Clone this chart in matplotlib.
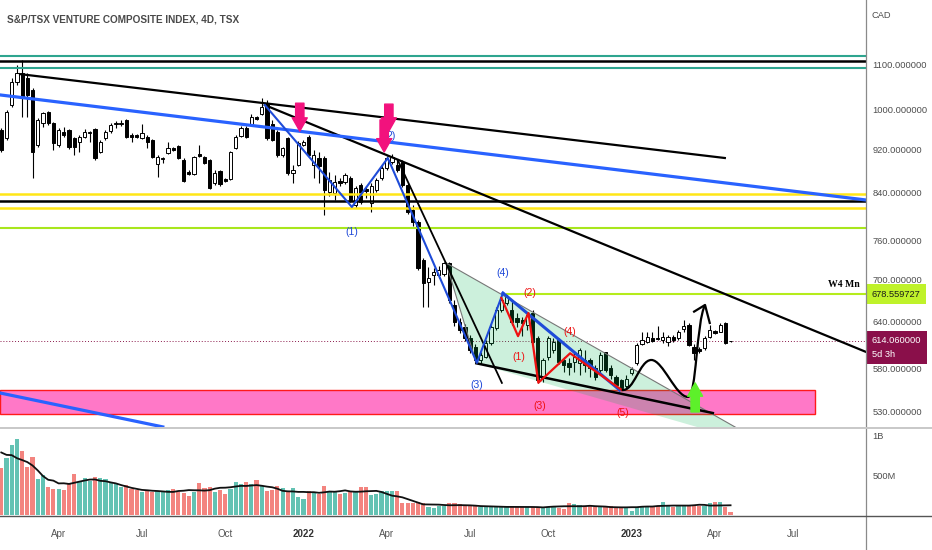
import numpy as np
import pandas as pd
import matplotlib
matplotlib.use("Agg")
import matplotlib.pyplot as plt
from matplotlib.path import Path
from matplotlib.patches import PathPatch, Polygon, Rectangle
from matplotlib.lines import Line2D
from matplotlib.ticker import FixedLocator, NullLocator, FuncFormatter

plt.rcParams['font.family'] = ['Liberation Sans', 'DejaVu Sans']

# ---------------- data: S&P/TSX Venture, 4D bars ----------------
opens = [958, 942, 1010, 1060, 1081, 1069, 1043, 929, 973, 995,
         973, 929, 954, 958, 942, 934, 944, 952, 960, 915,
         942, 956, 971, 971, 979, 948, 948, 942, 944, 938,
         892, 902, 913, 923, 927, 900, 877, 874, 911, 905,
         900, 857, 879, 864, 864, 923, 946, 962, 968, 985,
         991, 1012, 971, 954, 909, 942, 876, 890, 929, 944,
         890, 903, 903, 841, 839, 861, 859, 866, 818, 853,
         846, 822, 845, 866, 885, 896, 890, 896, 853, 810,
         790, 729, 696, 706, 706, 708, 724, 663, 640, 633,
         619, 607, 591, 594, 612, 632, 656, 666, 656, 645,
         642, 636, 652, 619, 569, 594, 603, 616, 591, 587,
         588, 587, 591, 591, 581, 578, 600, 581, 570, 566,
         559, 575, 587, 611, 613, 619, 619, 616, 613, 620,
         619, 630, 636, 607, 604, 606, 620, 628, 627, 638,
         614.5]
closes = [919, 995, 1060, 1081, 1025, 1032, 915, 979, 993, 973,
          933, 958, 948, 925, 925, 944, 954, 954, 903, 934,
          954, 968, 973, 973, 944, 944, 944, 952, 934, 905,
          905, 903, 923, 919, 903, 861, 874, 905, 907, 894,
          848, 876, 855, 861, 915, 944, 962, 944, 985, 981,
          1006, 942, 938, 909, 923, 876, 881, 932, 934, 909,
          909, 888, 845, 863, 859, 857, 872, 827, 848, 824,
          843, 851, 863, 885, 903, 905, 881, 853, 806, 790,
          717, 694, 702, 711, 714, 724, 670, 640, 629, 619,
          603, 591, 597, 612, 633, 656, 670, 674, 640, 640,
          638, 649, 613, 566, 591, 619, 613, 588, 584, 582,
          594, 603, 584, 581, 570, 597, 578, 572, 560, 557,
          568, 580, 610, 616, 620, 615, 617, 620, 620, 616,
          627, 634, 610, 599, 602, 619, 629, 625, 636, 612,
          614.06]
highs = [962, 1000, 1069, 1099, 1111, 1081, 1047, 983, 995, 997,
         975, 962, 964, 960, 944, 948, 960, 956, 962, 938,
         958, 973, 977, 979, 981, 952, 950, 971, 948, 940,
         909, 905, 934, 925, 929, 903, 881, 907, 929, 907,
         902, 881, 881, 866, 917, 948, 966, 966, 991, 987,
         1025, 1021, 979, 958, 925, 944, 890, 936, 938, 948,
         919, 915, 907, 877, 872, 866, 876, 870, 851, 857,
         851, 857, 866, 890, 907, 911, 900, 900, 857, 818,
         793, 732, 718, 717, 720, 726, 726, 670, 645, 637,
         622, 611, 600, 616, 636, 660, 674, 680, 670, 652,
         646, 653, 656, 621, 593, 621, 619, 619, 594, 593,
         600, 606, 603, 593, 584, 600, 601, 584, 572, 568,
         572, 582, 612, 626, 626, 626, 634, 626, 622, 622,
         629, 642, 638, 611, 607, 621, 636, 629, 638, 640,
         615]
lows = [915, 938, 1006, 1054, 985, 985, 866, 925, 964, 968,
        919, 925, 944, 921, 909, 915, 942, 934, 900, 913,
        938, 952, 962, 966, 942, 934, 942, 940, 923, 903,
        868, 894, 911, 917, 902, 859, 872, 872, 905, 892,
        846, 853, 851, 859, 863, 921, 944, 942, 966, 979,
        989, 938, 936, 905, 905, 872, 857, 888, 927, 905,
        866, 857, 801, 834, 827, 851, 855, 824, 813, 820,
        830, 806, 841, 863, 881, 892, 877, 850, 803, 783,
        714, 660, 660, 691, 702, 705, 666, 634, 625, 615,
        599, 588, 586, 593, 610, 629, 653, 663, 636, 633,
        621, 629, 611, 563, 564, 591, 599, 586, 576, 572,
        576, 572, 576, 570, 566, 575, 576, 568, 557, 554,
        556, 572, 584, 610, 612, 613, 616, 612, 608, 613,
        616, 626, 608, 591, 599, 603, 619, 624, 626, 611,
        613]
volume_m = [583, 708, 875, 946, 804, 604, 729, 446, 500, 354,
            321, 321, 313, 383, 508, 417, 458, 425, 479, 458,
            450, 417, 396, 354, 375, 321, 313, 292, 300, 292,
            300, 283, 313, 321, 292, 271, 238, 292, 396, 333,
            354, 292, 313, 263, 321, 408, 388, 408, 383, 438,
            363, 304, 313, 367, 333, 292, 333, 221, 200, 304,
            292, 263, 367, 300, 292, 263, 279, 283, 283, 354,
            354, 250, 263, 304, 304, 304, 304, 154, 154, 146,
            167, 154, 104, 92, 113, 113, 146, 146, 133, 125,
            125, 117, 96, 104, 96, 113, 96, 113, 96, 104,
            96, 96, 104, 96, 104, 104, 104, 83, 71, 146,
            133, 125, 113, 113, 104, 96, 96, 113, 104, 104,
            104, 54, 96, 96, 96, 113, 113, 158, 125, 104,
            113, 113, 113, 113, 113, 113, 154, 163, 163, 96,
            33]

# TSX trading calendar (each bar = 4 sessions)
first_session = '2021-01-29'
holidays = ['2021-02-15', '2021-04-02', '2021-05-24', '2021-07-01', '2021-08-02',
            '2021-09-06', '2021-10-11', '2021-12-27', '2021-12-28',
            '2022-01-03', '2022-02-21', '2022-04-15', '2022-05-23', '2022-07-01',
            '2022-08-01', '2022-09-05', '2022-10-10', '2022-12-26', '2022-12-27',
            '2023-01-02', '2023-02-20', '2023-04-07', '2023-05-22', '2023-07-03',
            '2023-08-07', '2023-09-04']
tick_months = ['2021-04-01', '2021-07-01', '2021-10-01', '2022-01-01', '2022-04-01',
               '2022-07-01', '2022-10-01', '2023-01-01', '2023-04-01', '2023-07-01']
tick_labels = ['Apr', 'Jul', 'Oct', '2022', 'Apr', 'Jul', 'Oct', '2023', 'Apr', 'Jul']

price_ticks = [1100, 1000, 920, 840, 760, 700, 640, 580, 530]

# levels and drawings (bar index, price)
teal_levels = [1121, 1093]
black_levels = [1109, 825]
yellow_levels = [837, 813]
lime_level = 780
w4_level = 678.559727
w4_start = 97
last_price = 614.06

top_line = ([3.6, 138.9], [1078, 903.5])
mid_line = ([50.6, 166.0], [1010, 600.7])
steep_line = ([76.1, 96.1], [899.7, 562.8])
blue_long = ([-0.25, 166.0], [1031.8, 827.1])
blue_low = ([-0.25, 31.0], [551, 513])
wave_blue = ([50.6, 67.3, 74.2, 91.3, 96.3], [1010, 815, 903.5, 587, 680])
blue_leg = ([96.3, 118.7], [680, 554.5])
wave_red = ([96.0, 99.2, 101.2, 103.1, 109.2, 119.1], [673, 621, 652, 563, 599, 554.5])
wedge_top = ([85.4, 145.6], [724.4, 498])
wedge_bottom = ([91.2, 136.6], [586.5, 528.2])
wedge_fill = [(85.4, 724.4), (145.6, 498), (142.9, 498), (91.2, 586.5)]
pink_zone = (-0.25, 156.2, 527.1, 554.5)

blue_marks = [('(1)', 67.3, 774), ('2)', 74.8, 946), ('(3)', 91.2, 560), ('(4)', 96.2, 709)]
red_marks = [('(2)', 101.4, 680), ('(1)', 99.4, 594), ('(3)', 103.3, 536),
             ('(4)', 109.2, 627), ('(5)', 119.3, 527.7)]
pink_arrows = [(57.3, 1014, 956), (74.4, 1012, 956), (73.5, 979, 915)]
green_arrow = (133.2, 529.4, 562.8)
path_pts = [(119.1, 554.5), (121.5, 552), (122.5, 590.6), (124.8, 590.6),
            (127.0, 590.6), (129.5, 546.4), (131.8, 546.4),
            (133.5, 546.4), (133.4, 640), (135.1, 663.1)]
arrow_head = ([133.0, 135.1, 136.0], [653.9, 663.1, 638.5])

# ---------------- figure ----------------
W, H = 932, 550
fig = plt.figure(figsize=(W / 100, H / 100), dpi=100)
fig.patch.set_facecolor('white')

xr = 866 / W
ax = fig.add_axes([0, 1 - 427 / H, xr, 427 / H])
axv = fig.add_axes([0, 1 - 515 / H, xr, 87 / H])

n = len(closes)
x = np.arange(n)
xlim = (-0.25, 166.0)

# candles
o = np.array(opens, float)
c = np.array(closes, float)
up = c >= o
ax.vlines(x, lows, highs, color='black', lw=0.8, zorder=3)
ax.bar(x, np.abs(c - o), bottom=np.minimum(o, c), width=0.62,
       color=np.where(up, 'white', 'black'), edgecolor='black', linewidth=0.7, zorder=4)

# horizontal levels
for lv in teal_levels:
    ax.axhline(lv, color='#2ea58f', lw=1.5, zorder=5)
for lv in black_levels:
    ax.axhline(lv, color='black', lw=1.8, zorder=5)
for lv in yellow_levels:
    ax.axhline(lv, color='#ffe617', lw=1.8, zorder=5)
ax.axhline(lime_level, color='#a8e61d', lw=1.5, zorder=5)
ax.plot([w4_start, xlim[1]], [w4_level, w4_level], color='#b5ec1c', lw=1.5, zorder=5)
ax.axhline(last_price, color='#8b1a4b', lw=0.7, ls=(0, (1, 2)), zorder=2)

# zone + wedge
ax.add_patch(Rectangle((pink_zone[0], pink_zone[2]), pink_zone[1] - pink_zone[0],
                       pink_zone[3] - pink_zone[2], facecolor='#ff3fb0', alpha=0.7,
                       edgecolor='none', zorder=5))
ax.add_patch(Rectangle((pink_zone[0], pink_zone[2]), pink_zone[1] - pink_zone[0],
                       pink_zone[3] - pink_zone[2], facecolor='none',
                       edgecolor='#ff1a1a', lw=1, zorder=6))
ax.add_patch(Polygon(wedge_fill, closed=True, facecolor='#00b450', alpha=0.2,
                     edgecolor='none', zorder=6))
ax.plot(*wedge_top, color='#777777', lw=0.8, zorder=7)
ax.plot([wedge_fill[0][0], wedge_fill[3][0]], [wedge_fill[0][1], wedge_fill[3][1]],
        color='#777777', lw=0.8, zorder=7)
ax.plot(*wedge_bottom, color='black', lw=1.8, zorder=7)

# trend lines
ax.plot(*top_line, color='black', lw=1.6, zorder=7)
ax.plot(*mid_line, color='black', lw=1.6, zorder=7)
ax.plot(*steep_line, color='black', lw=1.3, zorder=7)
ax.plot(*blue_long, color='#2962ff', lw=2.3, zorder=7)
ax.plot(*blue_low, color='#2962ff', lw=2.3, zorder=7)
ax.plot(*wave_blue, color='#1e4bd8', lw=1.5, zorder=8)
ax.plot(*blue_leg, color='#1e4bd8', lw=2.2, zorder=8)
ax.plot(*wave_red, color='#ee1111', lw=1.6, zorder=9)

for t, bx, py in blue_marks:
    ax.text(bx, py, t, color='#1d47d8', fontsize=7.5, ha='center', va='center', zorder=10)
for t, bx, py in red_marks:
    ax.text(bx, py, t, color='#ee1111', fontsize=7.5, ha='center', va='center', zorder=10)

for bx, tail, tip in pink_arrows:
    ax.annotate('', xy=(bx, tip), xytext=(bx, tail), zorder=10,
                arrowprops=dict(arrowstyle='simple,head_length=0.8,head_width=0.9,tail_width=0.5',
                                color='#f2127d', mutation_scale=12, shrinkA=0, shrinkB=0))
ax.annotate('', xy=(green_arrow[0], green_arrow[2]), xytext=(green_arrow[0], green_arrow[1]),
            zorder=10,
            arrowprops=dict(arrowstyle='simple,head_length=0.8,head_width=0.9,tail_width=0.5',
                            color='#5df02a', mutation_scale=12, shrinkA=0, shrinkB=0))

codes = [Path.MOVETO] + [Path.CURVE4] * 9
ax.add_patch(PathPatch(Path(path_pts, codes), transform=ax.transData, fill=False,
                       edgecolor='black', lw=1.6, zorder=9))
ax.plot(*arrow_head, color='black', lw=1.6, zorder=9)

ax.text(164.8, 691.6, 'W4 Mn', ha='right', va='center', fontsize=7, fontweight='bold',
        family=['Liberation Serif', 'DejaVu Serif'], zorder=10)

# price axis
ax.set_xlim(*xlim)
ax.set_yscale('log')
ax.set_ylim(512.9, 1260)
ax.yaxis.set_major_locator(FixedLocator(price_ticks))
ax.yaxis.set_minor_locator(NullLocator())
ax.yaxis.set_major_formatter(FuncFormatter(lambda v, p: f'{v:.6f}'))
ax.yaxis.tick_right()
ax.tick_params(axis='y', length=0, pad=4.5, labelsize=6.7, labelcolor='#4d4d4d')
ax.set_xticks([])
for s in ax.spines.values():
    s.set_visible(False)

ax.annotate(f'{w4_level:.6f}', xy=(1, w4_level), xycoords=('axes fraction', 'data'),
            xytext=(6, 0), textcoords='offset pixels', va='center', ha='left',
            fontsize=6.7, color='#1a1a1a', annotation_clip=False, zorder=20,
            bbox=dict(boxstyle='square,pad=0.6', fc='#bff22a', ec='none'))
ax.annotate(f'{last_price:.6f}\n5d 3h', xy=(1, last_price), xycoords=('axes fraction', 'data'),
            xytext=(6, 5), textcoords='offset pixels', va='top', ha='left',
            fontsize=6.7, color='white', annotation_clip=False, zorder=20, linespacing=1.6,
            bbox=dict(boxstyle='square,pad=0.6', fc='#8a0f4a', ec='none'))

# volume pane
vol = np.array(volume_m) * 1e6
axv.bar(x, vol, width=0.8, color=np.where(up, '#63c2b3', '#f3847f'), zorder=2)
vol_ma = pd.Series(vol).rolling(9, center=True, min_periods=1).mean()
axv.plot(x, vol_ma, color='#111111', lw=1.3, zorder=3)
axv.set_xlim(*xlim)
axv.set_ylim(0, 1.09e9)
axv.set_yticks([1e9, 5e8])
axv.set_yticklabels(['1B', '500M'])
axv.yaxis.tick_right()
axv.tick_params(axis='y', length=0, pad=4.5, labelsize=6.7, labelcolor='#4d4d4d')
for s in axv.spines.values():
    s.set_visible(False)

sessions = pd.bdate_range(first_session, '2023-09-30', freq='C', holidays=holidays)
bar_dates = sessions[::4]
tick_pos = np.searchsorted(bar_dates.values, pd.to_datetime(tick_months).values)
axv.set_xticks(tick_pos)
axv.set_xticklabels(tick_labels)
axv.tick_params(axis='x', length=0, pad=10, labelsize=7, labelcolor='#555555')
for lab in axv.get_xticklabels():
    if lab.get_text().isdigit():
        lab.set_fontweight('bold')
        lab.set_color('#333333')

# frame lines
fig.add_artist(Line2D([xr, xr], [0, 1], transform=fig.transFigure, color='#8a8a8a', lw=0.9))
fig.add_artist(Line2D([0, 1], [1 - 427.5 / H] * 2, transform=fig.transFigure, color='#c8c8c8', lw=1.4))
fig.add_artist(Line2D([0, 1], [1 - 515.5 / H] * 2, transform=fig.transFigure, color='#555555', lw=1))

fig.text(7 / W, 1 - 20 / H, 'S&P/TSX VENTURE COMPOSITE INDEX, 4D, TSX', fontsize=7.2,
         fontweight='bold', color='#4a4a4a', va='center', ha='left')
fig.text(872 / W, 1 - 16 / H, 'CAD', fontsize=6.7, color='#4d4d4d', va='center', ha='left')

fig.savefig('out.png', dpi=100, facecolor='white')
